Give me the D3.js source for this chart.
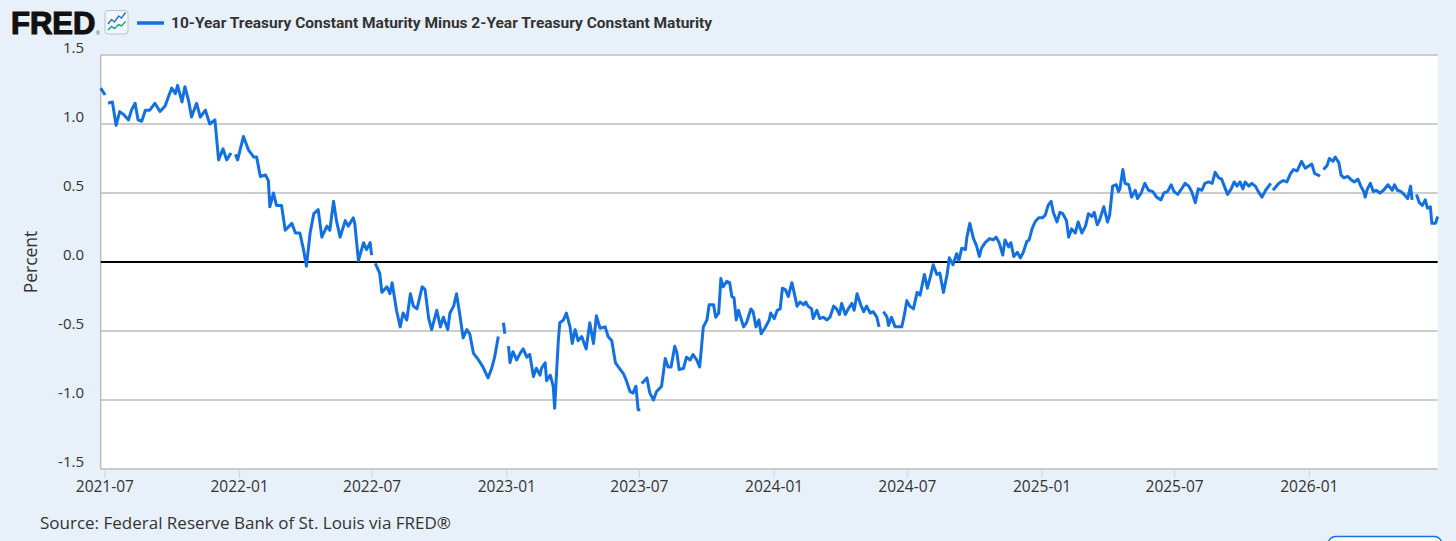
<!DOCTYPE html>
<html>
<head>
<meta charset="utf-8">
<script src="https://cdn.jsdelivr.net/npm/d3@7"></script>
<style>
body { margin: 0; background: #e8f0fa; }
svg { display: block; }
</style>
</head>
<body>
<script>
// 10y - 2y spread (null = market holiday gap)
var dates = [
 "2021-06-26","2021-07-02","2021-07-05","2021-07-06","2021-07-12","2021-07-17","2021-07-22","2021-07-27","2021-08-03","2021-08-07",
 "2021-08-12","2021-08-16","2021-08-21","2021-08-26","2021-09-01","2021-09-08","2021-09-15","2021-09-22","2021-09-26","2021-10-01",
 "2021-10-06","2021-10-09","2021-10-15","2021-10-19","2021-10-24","2021-10-28","2021-11-04","2021-11-09","2021-11-16","2021-11-22",
 "2021-11-29","2021-12-04","2021-12-10","2021-12-15","2021-12-21","2021-12-24","2021-12-27","2021-12-30",
 "2022-01-07","2022-01-14","2022-01-21","2022-01-25","2022-01-30","2022-02-06","2022-02-10","2022-02-12","2022-02-17","2022-02-21",
 "2022-02-28","2022-03-05","2022-03-14","2022-03-19","2022-03-25","2022-03-30","2022-04-03","2022-04-08","2022-04-13","2022-04-19",
 "2022-04-24","2022-05-01","2022-05-05","2022-05-10","2022-05-14","2022-05-19","2022-05-26","2022-05-30","2022-06-06","2022-06-08",
 "2022-06-13","2022-06-20","2022-06-24","2022-06-29","2022-07-01","2022-07-04","2022-07-06","2022-07-12","2022-07-15","2022-07-22",
 "2022-07-26","2022-07-29","2022-08-04","2022-08-09","2022-08-13","2022-08-18","2022-08-23","2022-08-27","2022-09-01","2022-09-08",
 "2022-09-12","2022-09-17","2022-09-21","2022-09-28","2022-10-03","2022-10-07","2022-10-13","2022-10-16","2022-10-21","2022-10-25",
 "2022-10-30","2022-11-03","2022-11-08","2022-11-12","2022-11-17","2022-11-24","2022-11-30","2022-12-07","2022-12-12","2022-12-16",
 "2022-12-21","2022-12-26","2022-12-28","2022-12-30",
 "2023-01-02","2023-01-04","2023-01-06","2023-01-10","2023-01-15","2023-01-20","2023-01-24","2023-01-29","2023-02-02","2023-02-07",
 "2023-02-11","2023-02-16","2023-02-18","2023-02-23","2023-02-25","2023-03-02","2023-03-06","2023-03-08","2023-03-10","2023-03-13",
 "2023-03-15","2023-03-20","2023-03-24","2023-03-29","2023-04-01","2023-04-05","2023-04-09","2023-04-14","2023-04-20","2023-04-25",
 "2023-04-30","2023-05-04","2023-05-09","2023-05-16","2023-05-20","2023-05-25","2023-05-30","2023-06-03","2023-06-10","2023-06-14",
 "2023-06-19","2023-06-23","2023-06-27","2023-06-30","2023-07-03","2023-07-04","2023-07-05","2023-07-12","2023-07-16","2023-07-21",
 "2023-07-25","2023-08-01","2023-08-06","2023-08-10","2023-08-14","2023-08-19","2023-08-22","2023-08-25","2023-08-31","2023-09-04",
 "2023-09-09","2023-09-13","2023-09-18","2023-09-22","2023-09-24","2023-09-27","2023-10-02","2023-10-05","2023-10-11","2023-10-14",
 "2023-10-18","2023-10-21","2023-10-24","2023-10-29","2023-11-02","2023-11-05","2023-11-08","2023-11-11","2023-11-14","2023-11-17",
 "2023-11-21","2023-11-25","2023-12-01","2023-12-04","2023-12-08","2023-12-12","2023-12-15","2023-12-20","2023-12-26","2023-12-28",
 "2024-01-02","2024-01-06","2024-01-10","2024-01-13","2024-01-17","2024-01-21","2024-01-26","2024-01-29","2024-02-02","2024-02-06",
 "2024-02-11","2024-02-14","2024-02-17","2024-02-22","2024-02-24","2024-02-29","2024-03-04","2024-03-09","2024-03-14","2024-03-18",
 "2024-03-23","2024-03-27","2024-03-31","2024-04-03","2024-04-08","2024-04-12","2024-04-17","2024-04-20","2024-04-24","2024-04-29",
 "2024-05-03","2024-05-07","2024-05-12","2024-05-16","2024-05-21","2024-05-24","2024-05-27","2024-05-30","2024-06-04","2024-06-06",
 "2024-06-10","2024-06-15","2024-06-20","2024-06-24","2024-06-27","2024-07-01","2024-07-05","2024-07-10","2024-07-15","2024-07-19",
 "2024-07-25","2024-07-29","2024-08-02","2024-08-06","2024-08-11","2024-08-15","2024-08-20","2024-08-25","2024-08-28","2024-09-02",
 "2024-09-07","2024-09-10","2024-09-14","2024-09-19","2024-09-21","2024-09-25","2024-09-30","2024-10-04","2024-10-08","2024-10-11",
 "2024-10-16","2024-10-22","2024-10-27","2024-10-31","2024-11-04","2024-11-09","2024-11-12","2024-11-17","2024-11-20","2024-11-24",
 "2024-11-29","2024-12-03","2024-12-07","2024-12-12","2024-12-15","2024-12-19","2024-12-23","2024-12-28",
 "2025-01-02","2025-01-06","2025-01-10","2025-01-14","2025-01-17","2025-01-22","2025-01-26","2025-01-30","2025-02-04","2025-02-07",
 "2025-02-11","2025-02-16","2025-02-20","2025-02-25","2025-03-02","2025-03-06","2025-03-11","2025-03-14","2025-03-18","2025-03-21",
 "2025-03-27","2025-04-01","2025-04-04","2025-04-08","2025-04-13","2025-04-16","2025-04-18","2025-04-22","2025-04-25","2025-04-30",
 "2025-05-04","2025-05-09","2025-05-12","2025-05-17","2025-05-22","2025-05-27","2025-06-02","2025-06-07","2025-06-13","2025-06-17",
 "2025-06-22","2025-06-27","2025-07-01","2025-07-06","2025-07-10","2025-07-16","2025-07-21","2025-07-25","2025-07-30","2025-08-03",
 "2025-08-08","2025-08-12","2025-08-17","2025-08-22","2025-08-26","2025-08-31","2025-09-04","2025-09-09","2025-09-12","2025-09-17",
 "2025-09-21","2025-09-25","2025-09-29","2025-10-03","2025-10-06","2025-10-11","2025-10-15","2025-10-20","2025-10-24","2025-10-29",
 "2025-11-03","2025-11-10","2025-11-11","2025-11-13","2025-11-21","2025-11-27","2025-12-02","2025-12-07","2025-12-11","2025-12-16",
 "2025-12-22","2025-12-27",
 "2026-01-02","2026-01-05","2026-01-09","2026-01-14","2026-01-16","2026-01-19","2026-01-21","2026-01-26","2026-01-29","2026-02-03",
 "2026-02-06","2026-02-11","2026-02-14","2026-02-18","2026-02-23","2026-02-27","2026-03-04","2026-03-09","2026-03-13","2026-03-17",
 "2026-03-19","2026-03-22","2026-03-26","2026-03-30","2026-04-03","2026-04-08","2026-04-13","2026-04-19","2026-04-25","2026-04-28",
 "2026-05-02","2026-05-07","2026-05-11","2026-05-16","2026-05-20","2026-05-22","2026-05-25","2026-05-28","2026-06-01","2026-06-05",
 "2026-06-09","2026-06-12","2026-06-16","2026-06-18","2026-06-23","2026-06-26"
];
var values = [
 1.26,1.21,null,1.15,1.16,0.99,1.09,1.07,1.03,1.10,
 1.15,1.03,1.02,1.10,1.10,1.15,1.09,1.13,1.19,1.26,
 1.22,1.28,1.16,1.27,1.17,1.05,1.15,1.05,1.10,1.00,
 1.03,0.74,0.82,0.74,0.79,null,0.78,0.74,
 0.91,0.81,0.76,0.76,0.62,0.63,0.59,0.40,0.50,0.41,
 0.41,0.23,0.28,0.21,0.21,0.09,-0.03,0.21,0.35,0.38,
 0.18,0.26,0.23,0.44,0.30,0.18,0.30,0.26,0.32,0.28,
 0.01,0.14,0.09,0.14,0.05,null,-0.01,-0.08,-0.22,-0.18,
 -0.23,-0.15,-0.35,-0.47,-0.37,-0.42,-0.23,-0.32,-0.34,-0.18,
 -0.20,-0.41,-0.49,-0.35,-0.47,-0.40,-0.49,-0.37,-0.32,-0.23,
 -0.40,-0.55,-0.49,-0.52,-0.66,-0.71,-0.76,-0.84,-0.77,-0.69,
 -0.54,null,-0.44,-0.52,
 null,-0.61,-0.73,-0.65,-0.71,-0.66,-0.63,-0.69,-0.67,-0.83,
 -0.77,-0.82,-0.77,-0.73,-0.86,-0.82,-0.90,-1.06,-0.86,-0.57,
 -0.44,-0.42,-0.37,-0.47,-0.59,-0.49,-0.57,-0.54,-0.63,-0.44,
 -0.59,-0.39,-0.48,-0.47,-0.54,-0.57,-0.73,-0.76,-0.81,-0.86,
 -0.94,-0.95,-0.90,-1.07,-1.07,null,-0.88,-0.84,-0.95,-1.00,
 -0.94,-0.90,-0.70,-0.76,-0.76,-0.61,-0.66,-0.78,-0.77,-0.69,
 -0.71,-0.67,-0.71,-0.76,-0.65,-0.47,-0.42,-0.31,-0.31,-0.40,
 -0.37,-0.12,-0.18,-0.14,-0.15,-0.25,-0.26,-0.42,-0.35,-0.40,
 -0.47,-0.44,-0.34,-0.36,-0.47,-0.42,-0.52,-0.48,-0.42,-0.37,
 -0.41,-0.35,-0.34,-0.19,-0.20,-0.25,-0.15,-0.22,-0.32,-0.29,
 -0.31,-0.29,-0.32,-0.34,-0.41,-0.35,-0.41,-0.40,-0.42,-0.40,
 -0.32,-0.34,-0.38,-0.30,-0.38,-0.34,-0.30,-0.35,-0.23,-0.31,
 -0.36,-0.32,-0.37,-0.36,-0.40,-0.47,null,-0.36,-0.40,-0.46,
 -0.40,-0.47,-0.47,-0.47,-0.40,-0.28,-0.32,-0.34,-0.22,-0.24,
 -0.09,-0.19,-0.11,-0.02,-0.09,-0.08,-0.22,-0.09,0.03,-0.02,
 0.06,0.01,0.10,0.09,0.18,0.28,0.17,0.12,0.04,0.10,
 0.14,0.17,0.16,0.18,0.14,0.05,0.16,0.11,0.14,0.04,
 0.07,0.03,0.07,0.15,0.16,0.24,0.29,0.32,
 0.32,0.34,0.41,0.44,0.36,0.29,0.36,0.35,0.30,0.18,
 0.24,0.21,0.29,0.21,0.26,0.35,0.33,0.36,0.27,0.30,
 0.40,0.29,0.34,0.55,0.56,0.51,0.53,0.67,0.57,0.56,
 0.47,0.52,0.46,0.50,0.57,0.52,0.51,0.47,0.45,0.50,
 0.51,0.56,0.51,0.49,0.52,0.57,0.55,0.51,0.43,0.53,
 0.52,0.57,0.58,0.57,0.65,0.61,0.60,0.53,0.49,0.53,
 0.58,0.55,0.58,0.53,0.58,0.55,0.57,0.55,0.51,0.47,
 0.52,0.57,null,0.52,0.57,0.59,0.58,0.64,0.67,0.66,
 0.73,0.68,
 0.70,0.71,0.64,0.63,0.62,null,0.67,0.70,0.75,0.73,
 0.76,0.72,0.63,0.61,0.62,0.60,0.58,0.60,0.55,0.51,
 0.47,0.53,0.57,0.51,0.52,0.50,0.52,0.56,0.52,0.56,
 0.52,0.51,0.49,0.46,0.55,0.45,null,0.49,0.43,0.41,
 0.45,0.39,0.40,0.28,0.28,0.33
];
var yTicks = [-1.5, -1.0, -0.5, 0, 0.5, 1.0, 1.5];
var seriesName = "10-Year Treasury Constant Maturity Minus 2-Year Treasury Constant Maturity";
var yTitle = "Percent";
var sourceNote = "Source: Federal Reserve Bank of St. Louis via FRED\u00ae";

var W = 1456, H = 541;
var plotL = 100.7, plotR = 1437.7, plotT = 55, plotB = 469;
var lineColor = "#1270e3";
var labelFont = "'Open Sans', 'Noto Sans', sans-serif";

var parse = d3.timeParse("%Y-%m-%d");
var data = dates.map(function(d, i) { return { date: parse(d), v: values[i] }; });

var x = d3.scaleTime()
    .domain(d3.extent(data, function(d) { return d.date; }))
    .range([plotL, plotR]);
var y = d3.scaleLinear()
    .domain([-1.5, 1.5])
    .range([plotB, plotT]);

var svg = d3.select('body')
    .append('svg')
    .attr('width', W)
    .attr('height', H);

// plot panel
svg.append('rect')
    .attr('x', plotL).attr('y', plotT)
    .attr('width', plotR - plotL).attr('height', plotB - plotT)
    .attr('fill', '#fff');

// grid
svg.selectAll('line.grid')
    .data(yTicks.filter(function(t) { return t !== 0; }))
    .enter()
    .append('line')
    .attr('class', 'grid')
    .attr('x1', plotL).attr('x2', plotR)
    .attr('y1', function(d) { return y(d); })
    .attr('y2', function(d) { return y(d); })
    .attr('stroke', '#bdbdbd')
    .attr('stroke-width', 1.5);

svg.append('line')
    .attr('x1', plotL).attr('x2', plotL)
    .attr('y1', plotT).attr('y2', plotB)
    .attr('stroke', '#bdbdbd')
    .attr('stroke-width', 1.5);

// zero line
svg.append('line')
    .attr('x1', plotL).attr('x2', plotR)
    .attr('y1', y(0)).attr('y2', y(0))
    .attr('stroke', '#000')
    .attr('stroke-width', 2);

// y labels
svg.selectAll('text.ylab')
    .data(yTicks)
    .enter()
    .append('text')
    .attr('class', 'ylab')
    .attr('x', 84)
    .attr('y', function(d) { return y(d) - 2; })
    .attr('text-anchor', 'end')
    .attr('font-family', labelFont)
    .attr('font-size', 15)
    .attr('fill', '#333')
    .text(function(d) { return d.toFixed(1); });

// x axis
var xAxis = d3.axisBottom(x)
    .ticks(d3.timeMonth.every(6))
    .tickFormat(d3.timeFormat('%Y-%m'))
    .tickSize(9)
    .tickPadding(3);
var gx = svg.append('g')
    .attr('transform', 'translate(0,' + plotB + ')')
    .call(xAxis);
gx.select('.domain').remove();
gx.selectAll('.tick line').attr('stroke', '#c9d6e6').attr('stroke-width', 1);
gx.selectAll('.tick text')
    .attr('font-family', labelFont)
    .attr('font-size', 15.5)
    .attr('fill', '#333');

// series
var line = d3.line()
    .defined(function(d) { return d.v !== null; })
    .x(function(d) { return x(d.date); })
    .y(function(d) { return y(d.v); });

svg.append('path')
    .attr('fill', 'none')
    .attr('stroke', lineColor)
    .attr('stroke-width', 3)
    .attr('stroke-linejoin', 'round')
    .attr('d', line(data));

// header
svg.append('text')
    .attr('x', 11).attr('y', 34)
    .attr('font-family', "'Liberation Sans', Arial, sans-serif")
    .attr('font-weight', 'bold')
    .attr('font-size', 31)
    .attr('fill', '#111')
    .attr('stroke', '#111')
    .attr('stroke-width', 1.2)
    .text('FRED');
svg.append('text')
    .attr('x', 96).attr('y', 35)
    .attr('font-family', "'Liberation Sans', Arial, sans-serif")
    .attr('font-size', 5)
    .attr('fill', '#333')
    .text('\u00ae');

var icon = svg.append('g');
icon.append('rect')
    .attr('x', 105).attr('y', 10.5)
    .attr('width', 23).attr('height', 23.5)
    .attr('rx', 3)
    .attr('fill', '#f4f7fb')
    .attr('stroke', '#b8c2cc');
icon.append('path')
    .attr('d', 'M108,24 L111.5,19.5 L114.5,22 L118.5,16 L121.5,18 L125.5,12.5')
    .attr('fill', 'none').attr('stroke', '#2a6fd6').attr('stroke-width', 1.4);
icon.append('path')
    .attr('d', 'M108,30 L111.5,26.5 L114.5,28.5 L118.5,24.5 L121.5,26 L125.5,21.5')
    .attr('fill', 'none').attr('stroke', '#1aa37a').attr('stroke-width', 1.4);

svg.append('line')
    .attr('x1', 137).attr('x2', 164)
    .attr('y1', 23).attr('y2', 23)
    .attr('stroke', lineColor)
    .attr('stroke-width', 3.5);
svg.append('text')
    .attr('x', 171).attr('y', 27.5)
    .attr('font-family', 'Roboto, sans-serif')
    .attr('font-weight', 'bold')
    .attr('font-size', 15.5)
    .attr('fill', '#333')
    .text(seriesName);

// axis title
svg.append('text')
    .attr('transform', 'translate(37,262) rotate(-90)')
    .attr('text-anchor', 'middle')
    .attr('font-family', labelFont)
    .attr('font-size', 17.5)
    .attr('fill', '#333')
    .text(yTitle);

// source
svg.append('text')
    .attr('x', 40).attr('y', 529)
    .attr('font-family', labelFont)
    .attr('font-size', 17)
    .attr('fill', '#333')
    .text(sourceNote);

// cut-off button at bottom right
svg.append('rect')
    .attr('x', 1328.5).attr('y', 536.5)
    .attr('width', 113).attr('height', 30)
    .attr('rx', 7)
    .attr('fill', '#fff')
    .attr('stroke', '#1a6ee0')
    .attr('stroke-width', 1.5);
</script>
</body>
</html>
